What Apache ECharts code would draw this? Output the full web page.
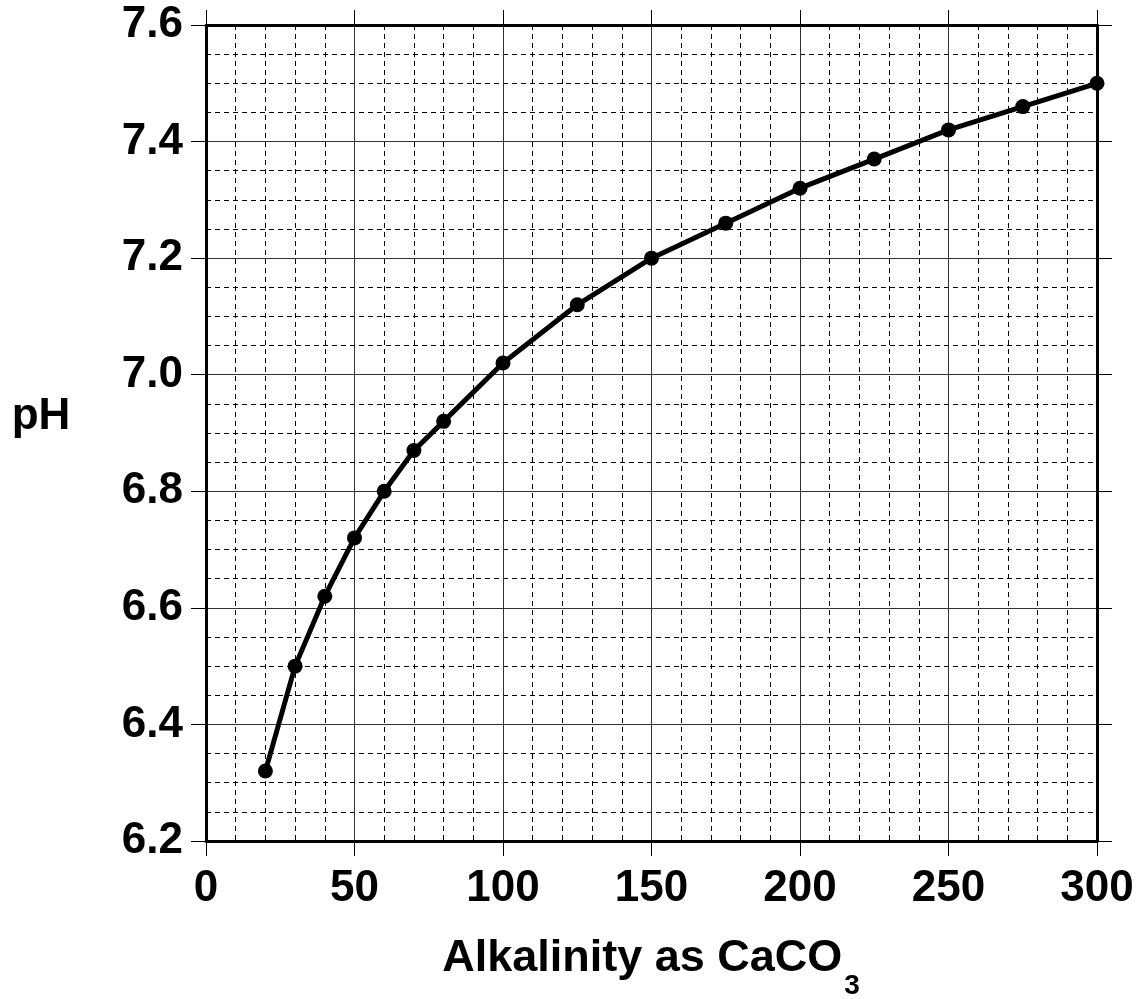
<!DOCTYPE html>
<html>
<head>
<meta charset="utf-8">
<script src="https://cdn.jsdelivr.net/npm/echarts@6/dist/echarts.min.js"></script>
<style>html,body{margin:0;padding:0;background:#fff}#c{width:1148px;height:999px}</style>
</head>
<body>
<div id="c"></div>
<script>
const alkalinity = [20, 30, 40, 50, 60, 70, 80, 100, 125, 150, 175, 200, 225, 250, 275, 300];
const pH = [6.32, 6.50, 6.62, 6.72, 6.80, 6.87, 6.92, 7.02, 7.12, 7.20, 7.26, 7.32, 7.37, 7.42, 7.46, 7.50];
const xTicks = [0, 50, 100, 150, 200, 250, 300];
const yTicks = [6.2, 6.4, 6.6, 6.8, 7.0, 7.2, 7.4, 7.6];
const xTitle = 'Alkalinity as CaCO';
const xTitleSub = '3';
const yTitle = 'pH';

const FONT = '"Liberation Sans", Arial, sans-serif';
const chart = echarts.init(document.getElementById('c'), null, {renderer: 'canvas'});

const labelStyle = {fontSize: 44, fontWeight: 'bold', color: '#000', fontFamily: FONT};
function mainAxis(extra) {
  return Object.assign({
    type: 'value',
    axisLine: {show: true, onZero: false, lineStyle: {color: '#000', width: 3}},
    axisTick: {show: true, inside: false, length: 15, lineStyle: {color: '#000', width: 1}},
    splitLine: {show: true, lineStyle: {color: '#333', width: 1}},
    minorSplitLine: {show: true, lineStyle: {color: '#000', width: 1, type: [5, 4]}},
  }, extra);
}
function sideAxis(extra) {
  return Object.assign({
    type: 'value',
    axisLine: {show: true, onZero: false, lineStyle: {color: '#000', width: 3}},
    axisTick: {show: true, inside: false, length: 15, lineStyle: {color: '#000', width: 1}},
    axisLabel: {show: false},
    splitLine: {show: false},
  }, extra);
}

chart.setOption({
  animation: false,
  backgroundColor: '#fff',
  grid: {left: 206, right: 51, top: 25, bottom: 158, containLabel: false},
  xAxis: [
    mainAxis({
      position: 'bottom', min: xTicks[0], max: xTicks[xTicks.length - 1], interval: 50,
      minorTick: {show: false, splitNumber: 5},
      axisLabel: Object.assign({margin: 26}, labelStyle),
    }),
    sideAxis({position: 'top', min: xTicks[0], max: xTicks[xTicks.length - 1], interval: 50})
  ],
  yAxis: [
    mainAxis({
      position: 'left', min: yTicks[0], max: yTicks[yTicks.length - 1], interval: 0.2,
      minorTick: {show: false, splitNumber: 4},
      axisLabel: Object.assign({margin: 23, formatter: v => Number(v).toFixed(1)}, labelStyle),
    }),
    sideAxis({position: 'right', min: yTicks[0], max: yTicks[yTicks.length - 1], interval: 0.2})
  ],
  graphic: [
    {
      type: 'text', left: null, x: 651, y: 959, z: 10,
      style: {
        text: '{a|' + xTitle + '}{b|' + xTitleSub + '}',
        align: 'center', verticalAlign: 'middle',
        rich: {
          a: {fontSize: 45, fontWeight: 'bold', fontFamily: FONT, fill: '#000', lineHeight: 54},
          b: {fontSize: 28, fontWeight: 'bold', fontFamily: FONT, fill: '#000', lineHeight: 28, padding: [54, 0, 0, 2]}
        }
      }
    },
    {
      type: 'text', x: 41, y: 417, z: 10,
      style: {text: yTitle, fontSize: 44, fontWeight: 'bold', fontFamily: FONT, fill: '#000', align: 'center', verticalAlign: 'middle'}
    }
  ],
  series: [{
    type: 'line',
    data: alkalinity.map((x, i) => [x, pH[i]]),
    lineStyle: {color: '#000', width: 5},
    itemStyle: {color: '#000'},
    symbol: 'circle', symbolSize: 15,
    z: 5
  }]
});
</script>
</body>
</html>
